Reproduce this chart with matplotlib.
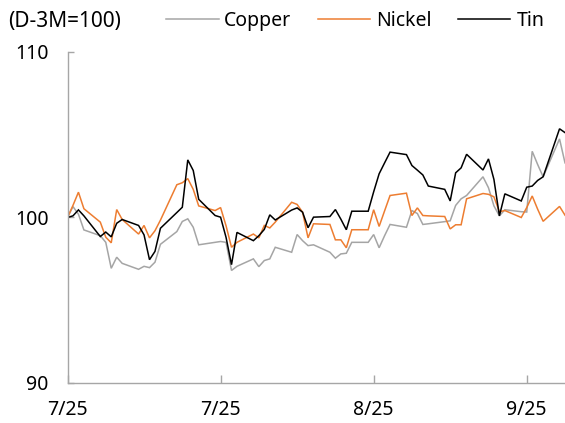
import matplotlib
matplotlib.use("Agg")
import matplotlib.pyplot as plt
import matplotlib.dates as mdates
import pandas as pd
import numpy as np

# ---- data (indexed to 100, LME 3M) ----
start_date = "2025-07-01"
end_date = "2025-09-30"

copper = [100.0, 100.66, 100.2, 99.25,
          98.9, 98.5, 96.93, 97.6, 97.23,
          96.87, 97.05, 96.97, 97.3, 98.38,
          99.15, 99.76, 99.92, 99.41, 98.35,
          98.5, 98.55, 98.5, 96.8, 97.05,
          97.5, 97.03, 97.4, 97.5, 98.2,
          97.9, 98.97, 98.6, 98.3, 98.35,
          97.9, 97.54, 97.8, 97.84, 98.5,
          98.5, 98.97, 98.17, 98.9, 99.58,
          99.41, 100.42, 100.24, 99.58, 99.62,
          99.75, 99.8, 100.73, 101.13, 101.33,
          102.46, 101.8, 100.7, 100.1, 100.47,
          100.35, 100.33, 104.0, 103.2, 102.46,
          104.75, 103.3]

nickel = [100.0, 100.73, 101.53, 100.53,
          99.72, 98.81, 98.47, 100.48, 99.88,
          99.0, 99.52, 98.77, 99.2, 99.84,
          101.98, 102.1, 102.35, 101.7, 100.7,
          100.42, 100.6, 99.5, 98.2, 98.5,
          99.0, 98.77, 99.52, 99.37, 99.72,
          100.92, 100.79, 100.32, 98.77, 99.62,
          99.58, 98.65, 98.65, 98.17, 99.26,
          99.26, 100.47, 99.46, 100.4, 101.33,
          101.47, 100.12, 100.58, 100.12, 100.1,
          100.06, 99.31, 99.56, 99.56, 101.13,
          101.45, 101.4, 101.25, 100.35, 100.42,
          100.0, 100.6, 101.3, 100.5, 99.77,
          100.67, 100.14]

tin = [100.0, 100.1, 100.46, 100.1,
       98.85, 99.12, 98.83, 99.65, 99.88,
       99.52, 98.95, 97.45, 97.95, 99.35,
       100.3, 100.62, 103.48, 102.84, 101.1,
       100.12, 100.02, 98.8, 97.15, 99.1,
       98.6, 98.9, 99.28, 100.16, 99.85,
       100.45, 100.58, 100.32, 99.38, 100.02,
       100.06, 100.48, 99.9, 99.26, 100.38,
       100.38, 101.55, 102.64, 103.3, 103.95,
       103.8, 103.14, 102.86, 102.57, 101.9,
       101.7, 101.0, 102.7, 103.0, 103.82,
       102.87, 103.54, 102.3, 100.1, 101.43,
       101.0, 101.83, 101.9, 102.24, 102.46,
       105.36, 105.13]

series_names = ["Copper", "Nickel", "Tin"]
series_colors = ["#a5a5a5", "#ed7d31", "#000000"]
y_ticks = [90, 100, 110]
tick_dates = ["2025-07-01", "2025-07-29", "2025-08-26", "2025-09-23"]
unit_label = "(D-3M=100)"

dates = pd.bdate_range(start_date, end_date)

plt.rcParams['font.family'] = ['Noto Sans', 'DejaVu Sans']

W, H = 565, 423
fig = plt.figure(figsize=(W / 100, H / 100), dpi=100)
left, right, top, bottom = 67.5, 565, 52, 383
ax = fig.add_axes([left / W, 1 - bottom / H, (right - left) / W, (bottom - top) / H])

for vals, name, col in zip([copper, nickel, tin], series_names, series_colors):
    ax.plot(dates, vals, color=col, lw=1.1, label=name, solid_joinstyle='miter')

ax.set_ylim(90, 110)
ax.set_yticks(y_ticks)
ax.set_xlim(pd.Timestamp(start_date), pd.Timestamp(end_date))
ax.set_xticks([pd.Timestamp(d) for d in tick_dates])
ax.xaxis.set_major_formatter(mdates.DateFormatter('%-m/%y'))

for s in ['top', 'right']:
    ax.spines[s].set_visible(False)
for s in ['left', 'bottom']:
    ax.spines[s].set_color('#a6a6a6')
    ax.spines[s].set_linewidth(1.0)
    ax.spines[s].set_clip_on(False)

ax.tick_params(axis='y', direction='in', length=4, width=1.0, color='#a6a6a6',
               labelsize=14, pad=13.5, labelcolor='#000000')
ax.tick_params(axis='x', direction='in', length=6, width=1.0, color='#a6a6a6',
               labelsize=14, pad=12.5, labelcolor='#000000')

fig.text(8 / W, 1 - 21 / H, unit_label, fontsize=15, ha='left', va='center')

leg = fig.legend(loc='center left', bbox_to_anchor=(166 / W, 1 - 21 / H), ncol=3,
                 frameon=False, fontsize=14, handlelength=2.7, handletextpad=0.3,
                 columnspacing=1.35, borderpad=0, borderaxespad=0)

fig.savefig("out.png", dpi=100)
